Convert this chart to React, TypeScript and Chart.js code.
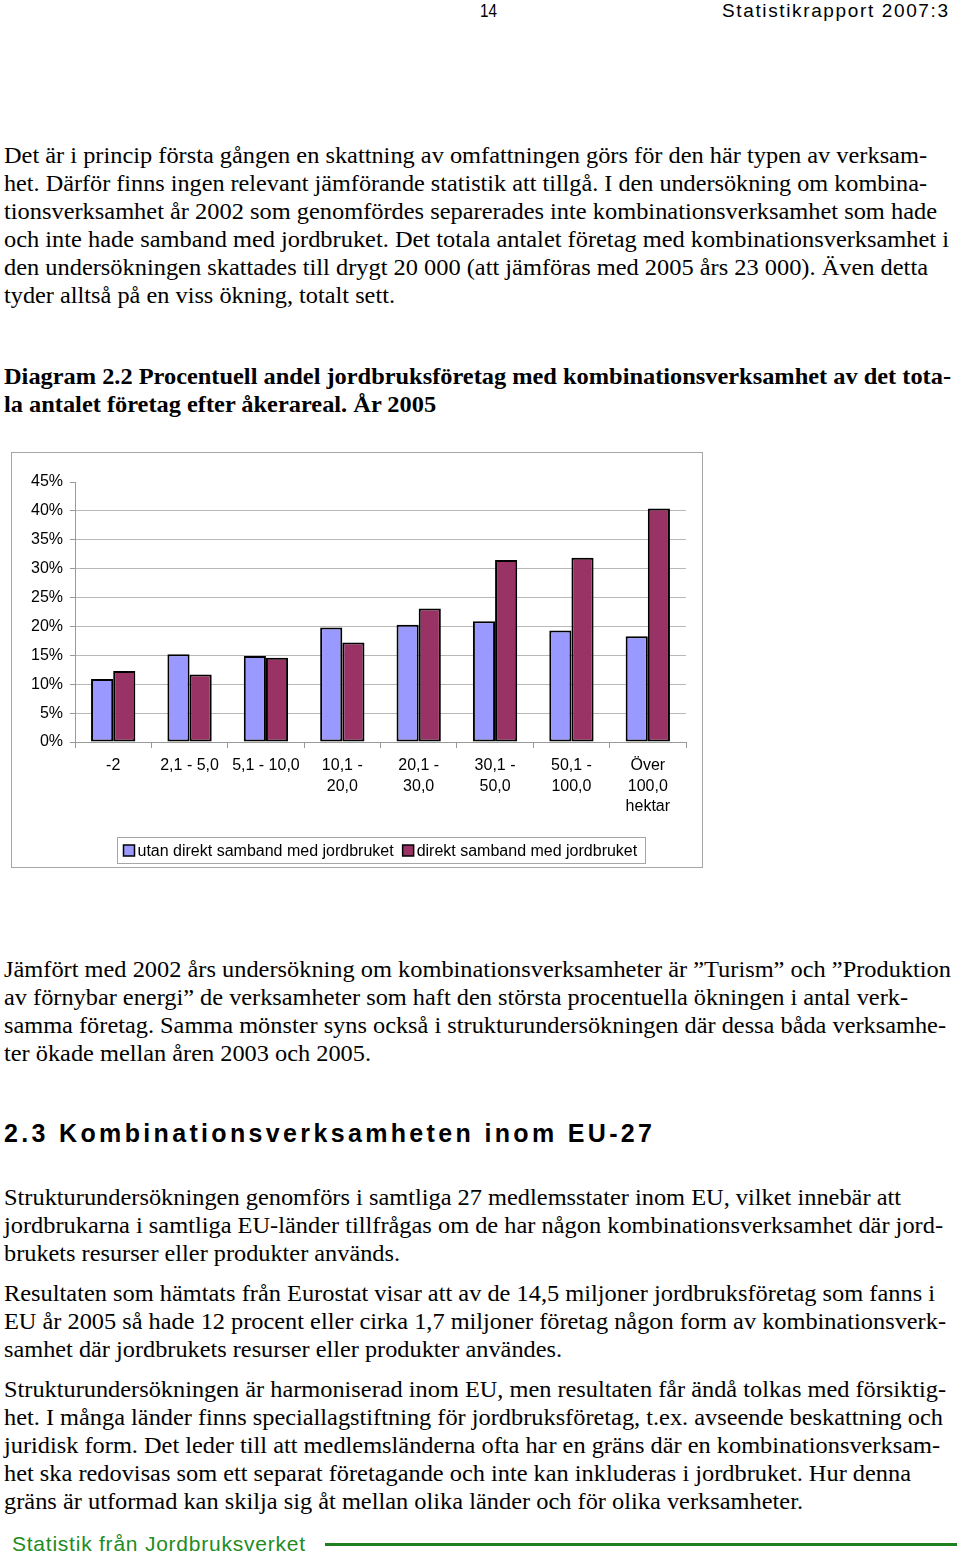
import React, { useEffect, useRef } from "react";
import { Chart, registerables } from "chart.js";

Chart.register(...registerables);

// ---------- Chart data ----------
const categories: (string | string[])[] = [
  "-2",
  "2,1 - 5,0",
  "5,1 - 10,0",
  ["10,1 -", "20,0"],
  ["20,1 -", "30,0"],
  ["30,1 -", "50,0"],
  ["50,1 -", "100,0"],
  ["Över", "100,0", "hektar"],
];
const seriesNames = ["utan direkt samband med jordbruket", "direkt samband med jordbruket"];
const utanValues = [10.9, 15.2, 14.9, 19.8, 20.3, 20.9, 19.3, 18.3];
const direktValues = [12.3, 11.7, 14.6, 17.2, 23.1, 31.5, 31.9, 40.4];
const yTicks = [0, 5, 10, 15, 20, 25, 30, 35, 40, 45];
const seriesColors = ["#9999FF", "#993366"];

// ---------- Page text ----------
const headerPage = "14";
const headerTitle = "Statistikrapport 2007:3";
const para1 = [
  "Det är i princip första gången en skattning av omfattningen görs för den här typen av verksam-",
  "het. Därför finns ingen relevant jämförande statistik att tillgå. I den undersökning om kombina-",
  "tionsverksamhet år 2002 som genomfördes separerades inte kombinationsverksamhet som hade",
  "och inte hade samband med jordbruket. Det totala antalet företag med kombinationsverksamhet i",
  "den undersökningen skattades till drygt 20 000 (att jämföras med 2005 års 23 000). Även detta",
  "tyder alltså på en viss ökning, totalt sett.",
];
const caption = [
  "Diagram 2.2 Procentuell andel jordbruksföretag med kombinationsverksamhet av det tota-",
  "la antalet företag efter åkerareal. År 2005",
];
const para2 = [
  "Jämfört med 2002 års undersökning om kombinationsverksamheter är ”Turism” och ”Produktion",
  "av förnybar energi” de verksamheter som haft den största procentuella ökningen i antal verk-",
  "samma företag. Samma mönster syns också i strukturundersökningen där dessa båda verksamhe-",
  "ter ökade mellan åren 2003 och 2005.",
];
const heading = "2.3 Kombinationsverksamheten inom EU-27";
const para3 = [
  "Strukturundersökningen genomförs i samtliga 27 medlemsstater inom EU, vilket innebär att",
  "jordbrukarna i samtliga EU-länder tillfrågas om de har någon kombinationsverksamhet där jord-",
  "brukets resurser eller produkter används.",
];
const para4 = [
  "Resultaten som hämtats från Eurostat visar att av de 14,5 miljoner jordbruksföretag som fanns i",
  "EU år 2005 så hade 12 procent eller cirka 1,7 miljoner företag någon form av kombinationsverk-",
  "samhet där jordbrukets resurser eller produkter användes.",
];
const para5 = [
  "Strukturundersökningen är harmoniserad inom EU, men resultaten får ändå tolkas med försiktig-",
  "het. I många länder finns speciallagstiftning för jordbruksföretag, t.ex. avseende beskattning och",
  "juridisk form. Det leder till att medlemsländerna ofta har en gräns där en kombinationsverksam-",
  "het ska redovisas som ett separat företagande och inte kan inkluderas i jordbruket. Hur denna",
  "gräns är utformad kan skilja sig åt mellan olika länder och för olika verksamheter.",
];
const footerText = "Statistik från Jordbruksverket";

const SERIF = '"Liberation Serif", "Times New Roman", serif';
const SANS = '"Liberation Sans", Arial, sans-serif';

let mctx: CanvasRenderingContext2D | null = null;
function measure(text: string, font: string): number {
  if (!mctx) mctx = document.createElement("canvas").getContext("2d");
  mctx!.font = font;
  return mctx!.measureText(text).width;
}

type FitProps = {
  text: string;
  left: number;
  right: number;
  cy: number;
  size: number;
  family: string;
  weight?: string;
  color?: string;
  mode?: "scale" | "spacing";
};

function FitLine({ text, left, right, cy, size, family, weight = "normal", color = "#000", mode = "scale" }: FitProps) {
  const w = measure(text, `${weight} ${size}px ${family}`);
  const target = right - left;
  const lh = 28;
  const style: React.CSSProperties = {
    position: "absolute",
    left,
    top: cy - lh / 2,
    whiteSpace: "pre",
    fontFamily: family,
    fontSize: size,
    fontWeight: weight as any,
    lineHeight: `${lh}px`,
    color,
  };
  if (mode === "scale") {
    style.transform = `scaleX(${target / w})`;
    style.transformOrigin = "0 50%";
  } else {
    style.letterSpacing = `${(target - w) / Math.max(1, text.length - 1)}px`;
  }
  return <div style={style}>{text}</div>;
}

function BarChart() {
  const ref = useRef<HTMLCanvasElement>(null);
  useEffect(() => {
    const canvas = ref.current!;
    const frame = {
      id: "frame",
      beforeDraw(chart: any) {
        const c = chart.ctx;
        c.save();
        c.fillStyle = "#fff";
        c.fillRect(0, 0, chart.width, chart.height);
        c.restore();
      },
      afterDraw(chart: any) {
        const c = chart.ctx;
        c.save();
        c.strokeStyle = "#a6a6a6";
        c.lineWidth = 1;
        c.strokeRect(0.5, 0.5, chart.width - 1, chart.height - 1);
        // boxed legend
        c.font = `16px ${SANS}`;
        const sq = 11;
        const items = chart.data.datasets.map((ds: any) => ({
          label: ds.label,
          color: ds.backgroundColor,
          w: c.measureText(ds.label).width,
        }));
        const padL = 6, gapT = 3, itemGap = 9, padR = 8;
        let total = padL + padR + itemGap * (items.length - 1);
        items.forEach((it: any) => (total += sq + gapT + it.w));
        const ca = chart.chartArea;
        const cx = (ca.left + ca.right) / 2;
        const bx = Math.round(cx - total / 2) + 0.5;
        const by = chart.height - 31 + 0.5;
        const bh = 26;
        c.strokeStyle = "#a6a6a6";
        c.strokeRect(bx, by, Math.round(total), bh);
        let x = bx + padL;
        const midY = by + bh / 2;
        items.forEach((it: any) => {
          c.fillStyle = it.color;
          c.fillRect(x, midY - sq / 2, sq, sq);
          c.strokeStyle = "#000";
          c.lineWidth = 1.5;
          c.strokeRect(x, midY - sq / 2, sq, sq);
          x += sq + gapT;
          c.fillStyle = "#000";
          c.textBaseline = "middle";
          c.textAlign = "left";
          c.fillText(it.label, x, midY + 1);
          x += it.w + itemGap;
        });
        c.restore();
      },
    };
    const chart = new Chart(canvas, {
      type: "bar",
      data: {
        labels: categories as any,
        datasets: [
          {
            label: seriesNames[0],
            data: utanValues,
            backgroundColor: seriesColors[0],
            borderColor: "#000",
            borderWidth: 2,
            borderSkipped: false,
          },
          {
            label: seriesNames[1],
            data: direktValues,
            backgroundColor: seriesColors[1],
            borderColor: "#000",
            borderWidth: 2,
            borderSkipped: false,
          },
        ],
      },
      options: {
        animation: false,
        responsive: false,
        devicePixelRatio: 1,
        datasets: { bar: { categoryPercentage: 0.58, barPercentage: 1 } },
        layout: { padding: { left: 0, top: 30, right: 17, bottom: 46 } },
        plugins: { legend: { display: false }, tooltip: { enabled: false } },
        scales: {
          x: {
            grid: { display: true, drawOnChartArea: false, offset: true, tickLength: 6, color: "#999" },
            border: { color: "#999" },
            ticks: {
              color: "#000",
              font: { family: SANS, size: 16, lineHeight: 1.3 },
              padding: 7,
              maxRotation: 0,
              autoSkip: false,
            },
            afterFit: (s: any) => {
              s.height = 80;
            },
          },
          y: {
            min: yTicks[0],
            max: yTicks[yTicks.length - 1],
            afterBuildTicks: (s: any) => {
              s.ticks = yTicks.map((v) => ({ value: v }));
            },
            ticks: {
              color: "#000",
              font: { family: SANS, size: 16 },
              padding: 7,
              callback: (v: any) => `${v}%`,
            },
            grid: {
              color: (ctx: any) => (ctx.tick && ctx.tick.value === yTicks[yTicks.length - 1] ? "rgba(0,0,0,0)" : "#b8b8b8"),
              tickColor: "#999",
              tickLength: 5,
            },
            border: { color: "#999" },
            afterFit: (s: any) => {
              s.width = 64;
            },
          },
        },
      } as any,
      plugins: [frame],
    });
    return () => chart.destroy();
  }, []);
  return (
    <div style={{ position: "absolute", left: 11, top: 452, width: 692, height: 416 }}>
      <canvas ref={ref} width={692} height={416} style={{ width: 692, height: 416, display: "block" }} />
    </div>
  );
}

function Para({ lines, startY, rights, bold }: { lines: string[]; startY: number; rights: number[]; bold?: boolean }) {
  return (
    <>
      {lines.map((t, i) => (
        <FitLine
          key={i}
          text={t}
          left={4}
          right={rights[i]}
          cy={startY + i * 28}
          size={24}
          family={SERIF}
          weight={bold ? "bold" : "normal"}
        />
      ))}
    </>
  );
}

export default function App() {
  useEffect(() => {
    document.body.style.margin = "0";
  }, []);
  return (
    <div style={{ position: "absolute", left: 0, top: 0, width: 960, height: 1557, background: "#fff", overflow: "hidden" }}>
      <FitLine text={headerPage} left={480} right={497} cy={11} size={19} family={SANS} mode="scale" />
      <FitLine text={headerTitle} left={722} right={948} cy={11} size={19} family={SANS} mode="spacing" />

      <Para lines={para1} startY={155} rights={[927, 927, 937, 949, 928, 395]} />
      <Para lines={caption} startY={376} rights={[951, 437]} bold />

      <BarChart />

      <Para lines={para2} startY={969} rights={[951, 908, 946, 371]} />

      <FitLine text={heading} left={4} right={652} cy={1133} size={25} family={SANS} weight="bold" mode="spacing" />

      <Para lines={para3} startY={1197} rights={[901, 943, 400]} />
      <Para lines={para4} startY={1293} rights={[935, 946, 562]} />
      <Para lines={para5} startY={1389} rights={[946, 943, 940, 911, 803]} />

      <FitLine text={footerText} left={12} right={305} cy={1544} size={21} family={SANS} color="#228B22" mode="spacing" />
      <div style={{ position: "absolute", left: 325, top: 1543, width: 632, height: 3, background: "#1f801f" }} />
    </div>
  );
}
